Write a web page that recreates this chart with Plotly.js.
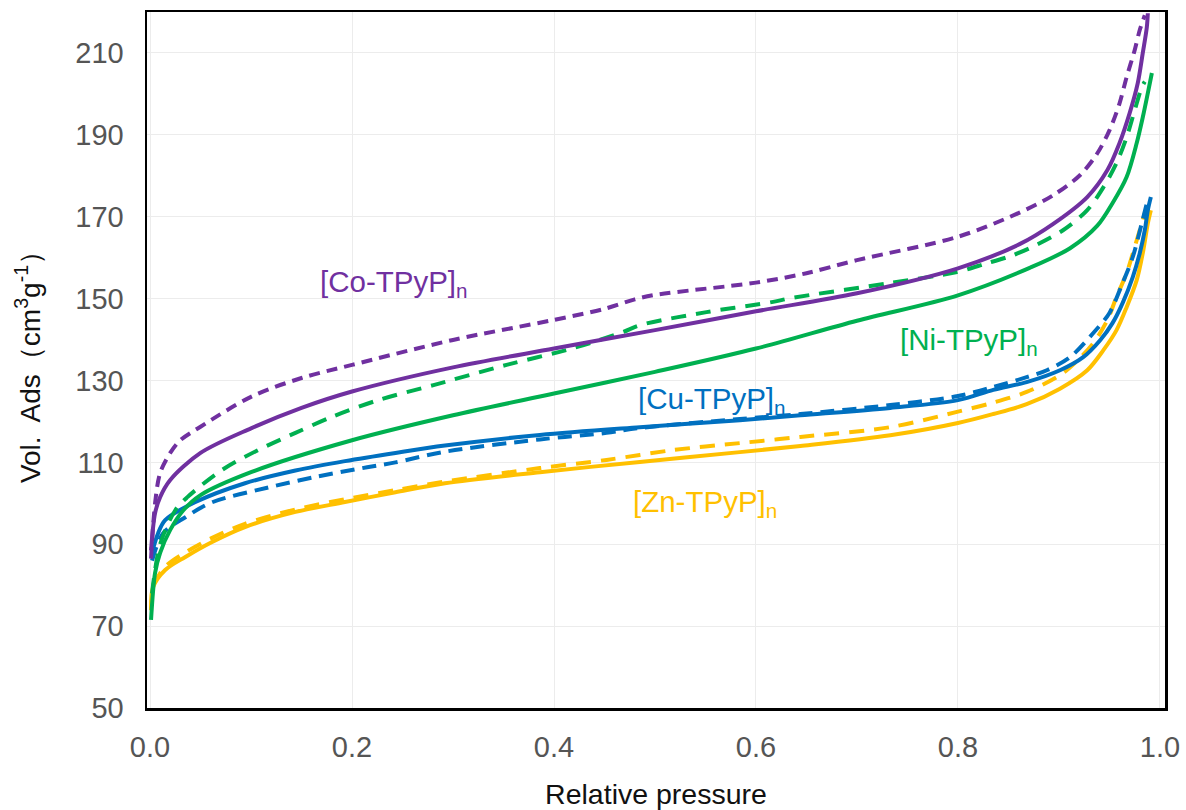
<!DOCTYPE html>
<html>
<head>
<meta charset="utf-8">
<script src="https://cdn.plot.ly/plotly-3.0.1.min.js"></script>
<style>html,body{margin:0;padding:0;background:#fff;}#chart{width:1186px;height:810px;}</style>
</head>
<body>
<div id="chart"></div>
<script>
// ---- data ----
const coSolidX = [0.001, 0.005, 0.01, 0.02, 0.05, 0.1, 0.15, 0.2, 0.3, 0.4, 0.5, 0.6, 0.7, 0.8, 0.861, 0.894, 0.928, 0.948, 0.96, 0.97, 0.978, 0.983, 0.987, 0.988];
const coSolidY = [88.5, 97.6, 101.5, 105.7, 112.3, 118.3, 123.3, 127.3, 133.2, 137.8, 142.3, 146.9, 151.3, 157.4, 163.3, 168.2, 174.8, 181.4, 188, 195.3, 202.6, 210, 216.3, 219.7];

const coDashX = [0.001, 0.005, 0.01, 0.02, 0.03, 0.05, 0.1, 0.15, 0.2, 0.3, 0.4, 0.45, 0.48, 0.5, 0.6, 0.65, 0.7, 0.8, 0.861, 0.894, 0.921, 0.938, 0.95, 0.96, 0.967, 0.975, 0.98, 0.985];
const coDashY = [86.5, 100, 107.4, 112.3, 115.4, 118.7, 126, 130.6, 133.8, 139.9, 144.8, 147.5, 149.8, 150.9, 153.9, 156.2, 159.4, 165.1, 171, 175.2, 180.2, 185.5, 191.1, 197.7, 204.1, 210.7, 215.6, 219.2];

const niSolidX = [0.001, 0.005, 0.01, 0.02, 0.033, 0.05, 0.1, 0.2, 0.3, 0.4, 0.5, 0.6, 0.7, 0.8, 0.871, 0.911, 0.938, 0.953, 0.967, 0.977, 0.983, 0.988, 0.992];
const niSolidY = [71.5, 83, 87.9, 93.5, 98.3, 102, 107.6, 115.4, 121.5, 126.8, 132.1, 137.8, 144.6, 150.8, 157.5, 162.3, 167.8, 173.3, 179.7, 188, 194.3, 200.2, 205.1];

const niDashX = [0.002, 0.01, 0.025, 0.037, 0.071, 0.107, 0.144, 0.18, 0.226, 0.275, 0.287, 0.353, 0.419, 0.468, 0.485, 0.551, 0.617, 0.634, 0.733, 0.799, 0.827, 0.851, 0.871, 0.904, 0.928, 0.944, 0.957, 0.967, 0.975, 0.982, 0.985];
const niDashY = [78, 90, 98.3, 101.5, 108.1, 113, 117.2, 121.1, 125.2, 128.5, 129.3, 133.8, 137.9, 141.8, 143.5, 146.7, 149.2, 150.1, 153.8, 156.5, 158.5, 160.3, 162.3, 166.7, 171.6, 177.2, 183.1, 189.4, 196, 201.6, 203];

const cuSolidX = [0.002, 0.008, 0.015, 0.045, 0.094, 0.144, 0.193, 0.243, 0.292, 0.386, 0.485, 0.584, 0.644, 0.733, 0.8, 0.835, 0.868, 0.901, 0.924, 0.941, 0.953, 0.963, 0.973, 0.980, 0.985, 0.988, 0.991];
const cuSolidY = [88, 92.7, 95.9, 100.3, 104.9, 108.0, 110.3, 112.3, 114.1, 116.7, 118.6, 120.3, 121.5, 123.3, 125.2, 127.7, 129.6, 132.5, 135.7, 139.9, 144, 148.9, 155.2, 161.1, 166.7, 171.6, 174.8];

const cuDashX = [0.002, 0.013, 0.035, 0.061, 0.116, 0.165, 0.215, 0.243, 0.292, 0.386, 0.452, 0.485, 0.584, 0.644, 0.733, 0.8, 0.835, 0.868, 0.888, 0.911, 0.934, 0.95, 0.963, 0.973, 0.982, 0.987];
const cuDashY = [86, 92.7, 96.6, 100.2, 103.8, 106.5, 108.8, 110.0, 112.6, 115.6, 117.2, 118.4, 120.6, 121.8, 124, 126.2, 128.4, 130.8, 132.5, 135.7, 141.6, 146.5, 153.8, 160.1, 168.4, 173.3];

const znSolidX = [0.001, 0.003, 0.015, 0.035, 0.061, 0.094, 0.144, 0.193, 0.243, 0.292, 0.386, 0.485, 0.584, 0.644, 0.733, 0.8, 0.835, 0.868, 0.901, 0.928, 0.944, 0.957, 0.967, 0.977, 0.983, 0.988, 0.991];
const znSolidY = [73.9, 79.5, 83.7, 86.9, 90.5, 94.2, 97.9, 100.3, 102.7, 104.9, 107.6, 110.1, 112.5, 114, 116.6, 119.6, 121.8, 124.2, 128, 132.5, 137.4, 142.3, 147.9, 154.5, 161.1, 168.4, 171.6];

const znDashX = [0.003, 0.015, 0.035, 0.061, 0.094, 0.144, 0.193, 0.243, 0.292, 0.386, 0.452, 0.518, 0.584, 0.644, 0.733, 0.8, 0.835, 0.868, 0.901, 0.917, 0.934, 0.948, 0.957, 0.967, 0.975, 0.982, 0.985];
const znDashY = [80, 84.5, 88, 91.5, 95, 98.5, 101, 103.2, 105.3, 108.6, 110.6, 113, 114.7, 116.2, 118.6, 122.4, 124.6, 127.2, 131.3, 134.6, 139.1, 144.8, 150.4, 156.2, 162.6, 168.4, 170.9];

const labelTexts = ['[Co-TPyP]<sub>n</sub>', '[Ni-TPyP]<sub>n</sub>', '[Cu-TPyP]<sub>n</sub>', '[Zn-TPyP]<sub>n</sub>'];
const labelX = [0.166, 0.741, 0.481, 0.476];
const labelY = [153.8, 139.4, 125.2, 100];

const xTickVals = [0, 0.2, 0.4, 0.6, 0.8, 1.0];
const xTickText = ['0.0', '0.2', '0.4', '0.6', '0.8', '1.0'];
const yTickVals = [50, 70, 90, 110, 130, 150, 170, 190, 210];

// ---- styling ----
const PURPLE = '#7030A0', GREEN = '#00B050', BLUE = '#0070C0', YELLOW = '#FFC000';
const colors = [PURPLE, GREEN, BLUE, YELLOW];
const FONT = 'Liberation Sans, Arial, sans-serif';

function tr(x, y, color, dash) {
  return {
    x: x, y: y, type: 'scatter', mode: 'lines',
    line: {color: color, width: 4, dash: dash, shape: 'spline', smoothing: 0.9},
    hoverinfo: 'skip', showlegend: false
  };
}

const data = [
  tr(znDashX, znDashY, YELLOW, '15px,10px'),
  tr(znSolidX, znSolidY, YELLOW, 'solid'),
  tr(cuDashX, cuDashY, BLUE, '14px,8px'),
  tr(cuSolidX, cuSolidY, BLUE, 'solid'),
  tr(niDashX, niDashY, GREEN, '15px,10px'),
  tr(niSolidX, niSolidY, GREEN, 'solid'),
  tr(coDashX, coDashY, PURPLE, '11px,7px'),
  tr(coSolidX, coSolidY, PURPLE, 'solid')
];

const annotations = labelTexts.map((t, i) => ({
  x: labelX[i], y: labelY[i], xref: 'x', yref: 'y', text: t, showarrow: false,
  xanchor: 'left', yanchor: 'middle',
  font: {family: FONT, size: 29.5, color: colors[i]}
}));

const layout = {
  width: 1186, height: 810,
  margin: {l: 147, r: 21, t: 12, b: 102, pad: 0},
  paper_bgcolor: '#ffffff', plot_bgcolor: '#ffffff',
  font: {family: FONT, color: '#555555'},
  xaxis: {
    range: [-0.003, 1.005], tickvals: xTickVals, ticktext: xTickText,
    showgrid: true, gridcolor: '#ececec', gridwidth: 1, zeroline: false,
    showline: true, mirror: true, linecolor: '#000000', linewidth: 2.5,
    ticks: '', ticklabelstandoff: 12,
    tickfont: {family: FONT, size: 29, color: '#555555'},
    title: {text: 'Relative pressure', font: {family: FONT, size: 28.5, color: '#111111'}, standoff: 24},
    automargin: false
  },
  yaxis: {
    range: [50, 220], tickvals: yTickVals,
    showgrid: true, gridcolor: '#ececec', gridwidth: 1, zeroline: false,
    showline: true, mirror: true, linecolor: '#000000', linewidth: 2.5,
    ticks: '', ticklabelstandoff: 15,
    tickfont: {family: FONT, size: 29, color: '#555555'},
    title: {text: 'Vol.  Ads（cm<sup>3</sup>g<sup>-1</sup>）', font: {family: FONT, size: 28, color: '#111111'}, standoff: 27},
    automargin: false
  },
  annotations: annotations
};

Plotly.newPlot('chart', data, layout, {staticPlot: true, displayModeBar: false});
</script>
</body>
</html>
